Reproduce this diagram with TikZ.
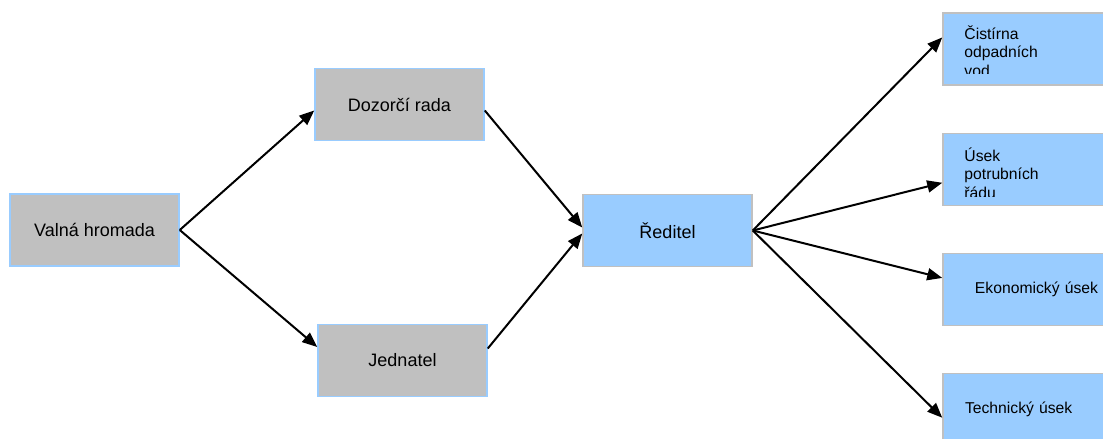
\documentclass[tikz,border=0pt]{standalone}
\usepackage{fontspec}
\setmainfont{Liberation Sans}
\usetikzlibrary{
    arrows.meta,
    calc,
    positioning
}
\definecolor{boardgrey}{HTML}{C0C0C0}
\definecolor{deptblue}{HTML}{99CCFF}
\tikzset{
    organ/.style={rectangle, fill=boardgrey, draw=deptblue, line width=1.5pt,
        minimum width=169pt, minimum height=72pt, font=\fontsize{18}{21}\selectfont},
    head/.style={organ, fill=deptblue, draw=boardgrey},
    unit/.style={head, minimum width=187pt, text width=143pt, inner xsep=22pt,
        align=left, font=\fontsize{15.7}{18.5}\selectfont},
    unittext/.style={inner sep=0pt, text width=143pt, align=left, anchor=base west,
        font=\fontsize{15.7}{18.5}\selectfont}
}

\begin{document}
\begin{tikzpicture}[x=1pt, y=-1pt, >={Triangle[length=15pt,width=12pt]}]
                        \useasboundingbox (0,0) rectangle (1103,439);
                        \clip (0,0) rectangle (1103,439);

                        \node[organ] (valna) at (94.5, 230) {Valná hromada};
                        \node[organ] (dozorci) at (399.5, 104.5) {Dozorčí rada};
                        \node[organ] (jednatel) at (402.5, 360.5) {Jednatel};
                        \node[head] (reditel) at (667.5, 230.5) {Ředitel};

                        \node[unit] (cistirna) at (1036.5, 49) {};
                        \node[unit] (usek) at (1036.5, 169.5) {};
                        \node[unit, align=center] (ekonom) at (1036.5, 289.5) {Ekonomický úsek};
                        \node[unit] (technicky) at (1036.5, 409.5) {Technický úsek};

                        % texts that do not fit are cut at the lower edge
                        \begin{scope}
                            \clip (cistirna.north west) rectangle ([yshift=12.5pt]cistirna.south east);
                            \node[unittext] (cistirnatext) at ([xshift=22pt, yshift=-27pt]cistirna.north west) {Čistírna\\odpadních\\vod};
                        \end{scope}
                        \begin{scope}
                            \clip (usek.north west) rectangle ([yshift=10pt]usek.south east);
                            \node[unittext] (usektext) at ([xshift=22pt, yshift=-28.5pt]usek.north west) {Úsek\\potrubních\\řádu};
                        \end{scope}

                        \draw[line width=2pt]
                        (valna.east) edge[->] (dozorci.184)
                        (valna.east) edge[->] (jednatel.171)
                        (dozorci.-4) edge[->] (reditel.178)
                        (jednatel.8) edge[->] (reditel.182)
                        (reditel.east) edge[->] (cistirna.173)
                        (reditel.east) edge[->] (usek.188)
                        (reditel.east) edge[->] (ekonom.173)
                        (reditel.east) edge[->] (technicky.185);
                    \end{tikzpicture}
\end{document}
